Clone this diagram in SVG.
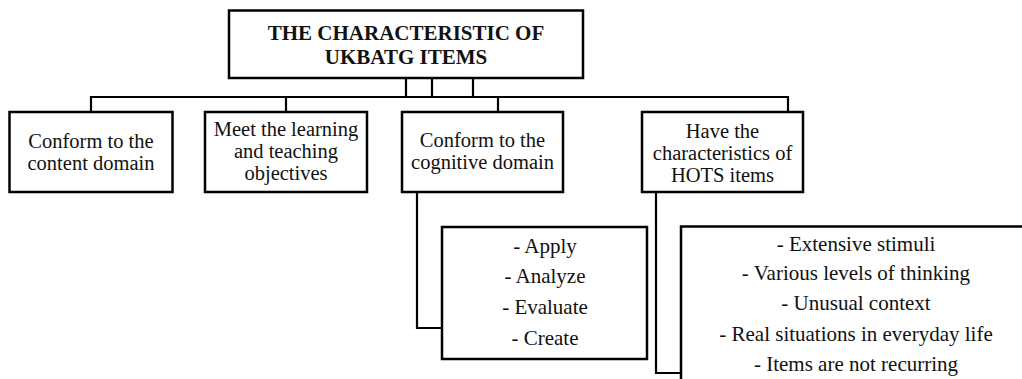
<svg xmlns="http://www.w3.org/2000/svg" width="1022" height="379" viewBox="0 0 1022 379">
<style>
.box{fill:#fff;stroke:#000;stroke-width:2.5}
.conn{fill:none;stroke:#000;stroke-width:2.2}
text{font-family:"Liberation Serif","Times New Roman",serif;font-size:20.5px;fill:#111;text-anchor:middle}
.title{font-weight:bold;font-size:21px}
.list{font-size:21px}
</style>
<rect width="1022" height="379" fill="#fff"/>
<g id="connectors">
<path class="conn" d="M406 78V97M432 78V97M473 78V97"/>
<path class="conn" d="M91 112V97H788V112M286 97V112M498 97V112"/>
<path class="conn" d="M417 192V328H442"/>
<path class="conn" d="M656 192V373H681"/>
</g>
<g id="title">
<rect class="box" x="229" y="10.5" width="354" height="67.5"/>
<text class="title" x="406" y="40">THE CHARACTERISTIC OF</text>
<text class="title" x="406" y="64">UKBATG ITEMS</text>
</g>
<g id="content">
<rect class="box" x="9.5" y="112" width="163" height="80"/>
<text x="91" y="148">Conform to the</text>
<text x="91" y="170">content domain</text>
</g>
<g id="objectives">
<rect class="box" x="205" y="112" width="162" height="80"/>
<text x="286" y="136">Meet the learning</text>
<text x="286" y="158">and teaching</text>
<text x="286" y="180">objectives</text>
</g>
<g id="cognitive">
<rect class="box" x="402" y="112" width="161" height="80"/>
<text x="482.5" y="147">Conform to the</text>
<text x="482.5" y="169">cognitive domain</text>
</g>
<g id="hots">
<rect class="box" x="642" y="112" width="161" height="80"/>
<text x="722.5" y="138">Have the</text>
<text x="722.5" y="160">characteristics of</text>
<text x="722.5" y="182">HOTS items</text>
</g>
<g id="cognitive-list">
<rect class="box" x="442" y="227" width="205" height="132"/>
<text class="list" x="545" y="253">- Apply</text>
<text class="list" x="545" y="283">- Analyze</text>
<text class="list" x="545" y="314">- Evaluate</text>
<text class="list" x="545" y="345">- Create</text>
</g>
<g id="hots-list">
<rect class="box" x="681" y="226.5" width="360" height="170"/>
<text class="list" x="856" y="251">- Extensive stimuli</text>
<text class="list" x="856" y="280">- Various levels of thinking</text>
<text class="list" x="856" y="310">- Unusual context</text>
<text class="list" x="856" y="341">- Real situations in everyday life</text>
<text class="list" x="856" y="371">- Items are not recurring</text>
</g>
</svg>
